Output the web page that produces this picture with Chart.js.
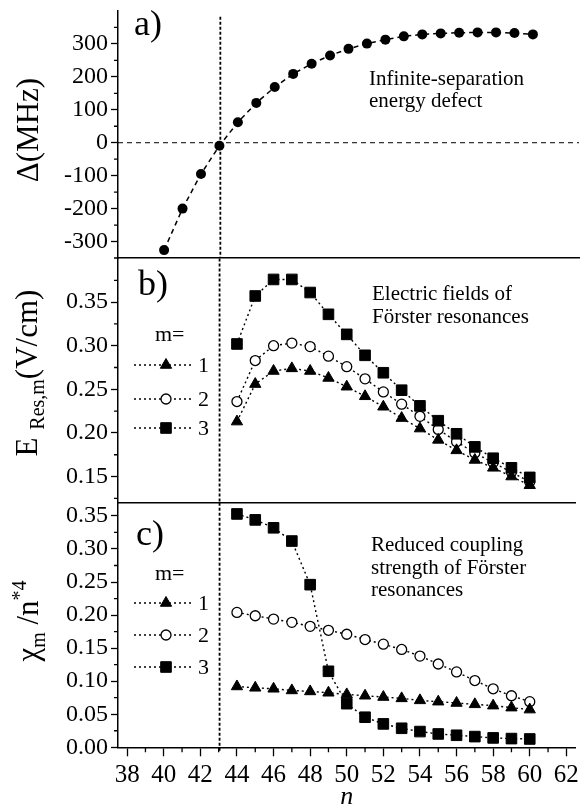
<!DOCTYPE html>
<html>
<head>
<meta charset="utf-8">
<script src="https://cdn.jsdelivr.net/npm/chart.js@4.4.0/dist/chart.umd.min.js"></script>
<style>
  html, body { margin: 0; padding: 0; background: #fff; }
  #wrap { position: relative; width: 584px; height: 810px; overflow: hidden; background: #fff; }
  .box { position: absolute; left: 0; width: 584px; }
  canvas { display: block; }
</style>
</head>
<body>
<div id="wrap">
  <div class="box" style="top:0px;height:270px"><canvas id="chartA"></canvas></div>
  <div class="box" style="top:250px;height:262px"><canvas id="chartB"></canvas></div>
  <div class="box" style="top:494px;height:316px"><canvas id="chartC"></canvas></div>
</div>
<script>
// ---- data ----
const nDefect = [40, 41, 42, 43, 44, 45, 46, 47, 48, 49, 50, 51, 52, 53, 54, 55, 56, 57, 58, 59, 60];
const deltaMHz = [-326, -200, -95, -9, 62, 121, 169, 209, 240, 265, 285, 301, 313, 323, 329, 332, 334, 335, 335, 333, 329];

const nRes = [44, 45, 46, 47, 48, 49, 50, 51, 52, 53, 54, 55, 56, 57, 58, 59, 60];
// electric fields of Förster resonances (V/cm)
const fieldM1 = [0.213, 0.256, 0.271, 0.274, 0.271, 0.263, 0.253, 0.242, 0.230, 0.217, 0.205, 0.192, 0.180, 0.169, 0.160, 0.150, 0.140];
const fieldM2 = [0.236, 0.283, 0.300, 0.303, 0.299, 0.288, 0.276, 0.262, 0.247, 0.233, 0.219, 0.204, 0.190, 0.177, 0.166, 0.155, 0.144];
const fieldM3 = [0.302, 0.357, 0.376, 0.376, 0.361, 0.336, 0.313, 0.289, 0.269, 0.249, 0.231, 0.214, 0.199, 0.184, 0.171, 0.160, 0.149];
// reduced coupling strength chi_m / n*^4
const chiM1 = [0.092, 0.090, 0.0885, 0.086, 0.0845, 0.0825, 0.080, 0.078, 0.076, 0.074, 0.071, 0.069, 0.067, 0.065, 0.063, 0.060, 0.057];
const chiM2 = [0.204, 0.199, 0.194, 0.189, 0.183, 0.177, 0.171, 0.163, 0.156, 0.148, 0.138, 0.126, 0.114, 0.101, 0.0885, 0.078, 0.069];
const chiM3 = [0.353, 0.344, 0.332, 0.312, 0.246, 0.115, 0.066, 0.0455, 0.0354, 0.0288, 0.0238, 0.0202, 0.0182, 0.0162, 0.0142, 0.0132, 0.0126];

const mLabels = ['1', '2', '3'];
const crossingN = 43.05;

// ---- tick values ----
const xTicks = [38, 40, 42, 44, 46, 48, 50, 52, 54, 56, 58, 60, 62];
const xMinor = [39, 41, 43, 45, 47, 49, 51, 53, 55, 57, 59, 61];
const yTicksA = [-300, -200, -100, 0, 100, 200, 300];
const yMinorA = [-350, -250, -150, -50, 50, 150, 250, 350];
const yTicksB = [0.15, 0.20, 0.25, 0.30, 0.35];
const yMinorB = [0.125, 0.175, 0.225, 0.275, 0.325, 0.375];
const yTicksC = [0, 0.05, 0.10, 0.15, 0.20, 0.25, 0.30, 0.35];
const yMinorC = [0.025, 0.075, 0.125, 0.175, 0.225, 0.275, 0.325];

const SERIF = '"Liberation Serif", "Times New Roman", Times, serif';

const toXY = (xs, ys) => xs.map((v, i) => ({ x: v, y: ys[i] }));

function xScale(showLabels) {
  return {
    type: 'linear', min: 37.5, max: 62.5,
    afterBuildTicks: s => { s.ticks = xTicks.map(v => ({ value: v })); },
    afterFit: s => { s.paddingLeft = 0; s.paddingRight = 0; s.height = showLabels ? 62.7 : 0; },
    grid: { drawOnChartArea: false, drawTicks: showLabels, tickLength: 9, tickWidth: 1.3, tickColor: '#000' },
    border: { display: true, color: '#000', width: 1.5 },
    ticks: { display: showLabels, autoSkip: false, maxRotation: 0, color: '#000', padding: 4,
             font: { family: SERIF, size: 25 } },
    title: { display: showLabels, text: 'n', color: '#000', padding: 0,
             font: { family: SERIF, size: 26, style: 'italic', lineHeight: 1 } }
  };
}

function yScale(min, max, majors, fmt) {
  return {
    type: 'linear', min: min, max: max,
    afterBuildTicks: s => { s.ticks = majors.map(v => ({ value: v })); },
    afterFit: s => { s.width = 118; s.paddingTop = 0; s.paddingBottom = 0; },
    grid: { drawOnChartArea: false, tickLength: 7, tickWidth: 1.3, tickColor: '#000' },
    border: { color: '#000', width: 1.5 },
    ticks: { autoSkip: false, color: '#000', padding: 3, font: { family: SERIF, size: 24 }, callback: fmt }
  };
}

// rotated y title built from pieces (for sub/superscripts)
function drawYTitle(ctx, cx, cy, pieces) {
  ctx.save();
  let w = 0;
  pieces.forEach(p => { ctx.font = `${p.size}px ${SERIF}`; p.w = ctx.measureText(p.t).width; w += p.w; });
  ctx.translate(cx, cy);
  ctx.rotate(-Math.PI / 2);
  ctx.fillStyle = '#000';
  ctx.textBaseline = 'alphabetic';
  let x = -w / 2;
  pieces.forEach(p => {
    ctx.font = `${p.size}px ${SERIF}`;
    ctx.fillText(p.t, x, 10 + (p.dy || 0));
    x += p.w;
  });
  ctx.restore();
}

// extra drawing: minor ticks, reference lines, labels, inner legend
function decor(cfg) {
  const Y = v => v - cfg.top;
  return {
    id: 'decor',
    beforeDatasetsDraw(chart) {
      const { ctx, chartArea: a, scales: { x, y } } = chart;
      ctx.save();
      ctx.strokeStyle = '#000';
      const vx = x.getPixelForValue(crossingN);
      ctx.lineWidth = 1.8;
      ctx.setLineDash([3, 2]);
      ctx.beginPath();
      ctx.moveTo(vx, cfg.vTop != null ? Y(cfg.vTop) : a.top);
      ctx.lineTo(vx, a.bottom + (cfg.vExtra || 0));
      ctx.stroke();
      if (cfg.zeroLine) {
        const y0 = y.getPixelForValue(0);
        ctx.lineWidth = 1;
        ctx.setLineDash([5, 4]);
        ctx.beginPath();
        ctx.moveTo(a.left, y0);
        ctx.lineTo(a.right, y0);
        ctx.stroke();
      }
      ctx.restore();
    },
    afterDraw(chart) {
      const { ctx, chartArea: a, scales: { x, y } } = chart;
      ctx.save();
      ctx.strokeStyle = '#000';
      ctx.lineWidth = 1.3;
      ctx.beginPath();
      cfg.minorY.forEach(v => {
        const py = y.getPixelForValue(v);
        ctx.moveTo(a.left - 4, py); ctx.lineTo(a.left, py);
      });
      if (cfg.minorX) {
        xMinor.forEach(v => {
          const px = x.getPixelForValue(v);
          ctx.moveTo(px, a.bottom); ctx.lineTo(px, a.bottom + 5);
        });
      }
      ctx.stroke();

      ctx.fillStyle = '#000';
      ctx.textBaseline = 'alphabetic';
      cfg.texts.forEach(t => {
        ctx.font = `${t.size}px ${SERIF}`;
        ctx.fillText(t.s, t.x, Y(t.y));
      });

      if (cfg.legend) {
        const L = cfg.legend;
        ctx.font = `22px ${SERIF}`;
        ctx.fillText('m=', 155, Y(L.head));
        chart.data.datasets.forEach((ds, i) => {
          const ry = Y(L.rows[i]);
          ctx.save();
          ctx.lineWidth = 1.3;
          ctx.setLineDash([2, 3]);
          ctx.beginPath(); ctx.moveTo(134, ry); ctx.lineTo(194, ry); ctx.stroke();
          ctx.restore();
          ctx.fillStyle = ds.pointBackgroundColor;
          ctx.strokeStyle = ds.pointBorderColor;
          ctx.lineWidth = ds.pointBorderWidth;
          Chart.helpers.drawPoint(ctx, { pointStyle: ds.pointStyle, radius: ds.pointRadius,
            borderWidth: ds.pointBorderWidth, rotation: 0 }, 166, ry);
          ctx.fillStyle = '#000';
          ctx.textBaseline = 'middle';
          ctx.font = `22px ${SERIF}`;
          ctx.fillText(ds.label, 198, ry + 1);
          ctx.textBaseline = 'alphabetic';
        });
      }
      drawYTitle(ctx, cfg.title.x, Y(cfg.title.y), cfg.title.pieces);
      ctx.restore();
    }
  };
}

function seriesSets(xs, s1, s2, s3) {
  const base = { showLine: true, tension: 0, borderColor: '#000', borderWidth: 1.4, borderDash: [2, 3],
                 pointBorderColor: '#000', pointHoverRadius: 0 };
  return [
    Object.assign({}, base, { label: mLabels[0], data: toXY(xs, s1), order: 1,
      pointStyle: 'triangle', pointRadius: 6.5, pointBackgroundColor: '#000', pointBorderWidth: 1 }),
    Object.assign({}, base, { label: mLabels[1], data: toXY(xs, s2), order: 3,
      pointStyle: 'circle', pointRadius: 5, pointBackgroundColor: '#fff', pointBorderWidth: 1.3 }),
    Object.assign({}, base, { label: mLabels[2], data: toXY(xs, s3), order: 2,
      pointStyle: 'rect', pointRadius: 7.5, pointBackgroundColor: '#000', pointBorderWidth: 1 })
  ];
}

const common = {
  responsive: true, maintainAspectRatio: false, animation: false, events: [],
  plugins: { legend: { display: false }, tooltip: { enabled: false } }
};

// ---- panel a ----
new Chart(document.getElementById('chartA'), {
  type: 'scatter',
  data: { datasets: [{
    label: 'Δ', data: toXY(nDefect, deltaMHz), showLine: true, tension: 0,
    borderColor: '#000', borderWidth: 1.5, borderDash: [5, 4],
    pointStyle: 'circle', pointRadius: 5, pointBackgroundColor: '#000', pointBorderColor: '#000', pointBorderWidth: 0
  }] },
  options: Object.assign({}, common, {
    layout: { padding: { top: 11, bottom: 12, left: 0, right: 0 } },
    scales: { x: xScale(false), y: yScale(-350, 400, yTicksA, v => String(v)) }
  }),
  plugins: [decor({
    top: 0, vTop: 16.7, zeroLine: true, minorY: yMinorA,
    texts: [
      { s: 'a)', x: 134, y: 35, size: 36 },
      { s: 'Infinite-separation', x: 369, y: 85, size: 21 },
      { s: 'energy defect', x: 369, y: 107, size: 21 }
    ],
    title: { x: 28, y: 130, pieces: [{ t: 'Δ(MHz)', size: 31 }] }
  })]
});

// ---- panel b ----
new Chart(document.getElementById('chartB'), {
  type: 'scatter',
  data: { datasets: seriesSets(nRes, fieldM1, fieldM2, fieldM3) },
  options: Object.assign({}, common, {
    layout: { padding: { top: 8.3, bottom: 9.3, left: 0, right: 0 } },
    scales: { x: xScale(false), y: yScale(0.12, 0.40, yTicksB, v => v.toFixed(2)) }
  }),
  plugins: [decor({
    top: 250, minorY: yMinorB,
    texts: [
      { s: 'b)', x: 138, y: 295, size: 36 },
      { s: 'Electric fields of', x: 372, y: 300, size: 21 },
      { s: 'Förster resonances', x: 372, y: 323, size: 21 }
    ],
    legend: { head: 341, rows: [365, 399, 428] },
    title: { x: 27, y: 373, pieces: [
      { t: 'E', size: 31 }, { t: ' ', size: 31 }, { t: 'Res,m', size: 20, dy: 7 }, { t: '(V/cm)', size: 31 }
    ] }
  })]
});

// ---- panel c ----
new Chart(document.getElementById('chartC'), {
  type: 'scatter',
  data: { datasets: seriesSets(nRes, chiM1, chiM2, chiM3) },
  options: Object.assign({}, common, {
    layout: { padding: { top: 8.7, bottom: 0, left: 0, right: 0 } },
    scales: { x: xScale(true), y: yScale(0, 0.37, yTicksC, v => v.toFixed(2)) }
  }),
  plugins: [decor({
    top: 494, vExtra: 4.4, minorX: true, minorY: yMinorC,
    texts: [
      { s: 'c)', x: 136, y: 545, size: 36 },
      { s: 'Reduced coupling', x: 371, y: 551, size: 21 },
      { s: 'strength of Förster', x: 371, y: 574, size: 21 },
      { s: 'resonances', x: 371, y: 596, size: 21 }
    ],
    legend: { head: 580, rows: [603, 635, 667] },
    title: { x: 28, y: 621, pieces: [
      { t: 'χ', size: 31 }, { t: 'm', size: 20, dy: 7 }, { t: ' /n', size: 31 }, { t: '*4', size: 20, dy: -12 }
    ] }
  })]
});
</script>
</body>
</html>
